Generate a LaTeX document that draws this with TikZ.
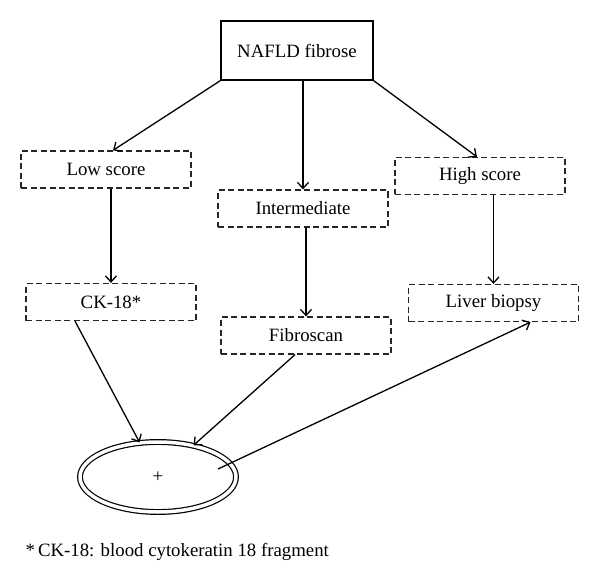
\documentclass[tikz,border=0pt]{standalone}
\usepackage{fontspec}
\setmainfont{Liberation Serif}
\usepackage{tikz}
\usetikzlibrary{shapes}
\usetikzlibrary{shapes.geometric}
\usetikzlibrary{arrows.meta}
\tikzset{
    topbox/.style = {rectangle, draw=black, line width=1.3pt, minimum width=152pt, minimum height=59pt, inner sep=0pt},
    dbox/.style = {rectangle, draw=black!85, line width=1.3pt, dash pattern=on 6pt off 3.5pt, minimum width=170pt, minimum height=37pt, inner sep=0pt},
    result/.style = {ellipse, draw=black, line width=1.2pt, double, double distance=3.5pt, minimum width=156pt, minimum height=70pt, inner sep=0pt},
    edgen/.style = {-{Straight Barb[length=6pt,width=11pt]}, line width=1.3pt}
}

\begin{document}
\begin{tikzpicture}[
	x=1pt, y=-1pt,
	font=\fontsize{18.8}{22}\selectfont]
  \useasboundingbox (0,0) rectangle (600,583);
  \node (fib) at (297,50.5) [topbox] {NAFLD fibrose};
  \node (low) at (106,169.5) [dbox] {Low score};
  \node (inter) at (303,208.5) [dbox] {Intermediate};
  \node (high) at (480,176) [dbox] {High score};
  \node (ck) at (111,302) [dbox] {CK-18*};
  \node (fibro) at (306,335.5) [dbox] {Fibroscan};
  \node (liver) at (493.5,303) [dbox] {Liver biopsy};
  \node (res) at (158,477) [result] {+};
  \node (note) at (22,556) [anchor=base west] {*\,CK-18: blood cytokeratin 18 fragment};

  % from the score to the three branches
  \draw[edgen] (fib.south west) -- ([xshift=7pt]low.north);
  \draw[edgen] (inter.north |- fib.south) -- (inter.north);
  \draw[edgen] (fib.south east) -- ([xshift=-3pt]high.north);
  % second step
  \draw[edgen] (ck.north |- low.south) -- (ck.north);
  \draw[edgen] (fibro.north |- inter.south) -- (fibro.north);
  \draw[edgen] (liver.north |- high.south) -- (liver.north);
  % outcome
  \draw[edgen] ([xshift=-36pt]ck.south) -- (res);
  \draw[edgen] ([xshift=-11pt]fibro.south) -- (res);
  \draw[edgen] ([xshift=60pt,yshift=8pt]res.center) -- ([xshift=37pt]liver.south);
\end{tikzpicture}
\end{document}
